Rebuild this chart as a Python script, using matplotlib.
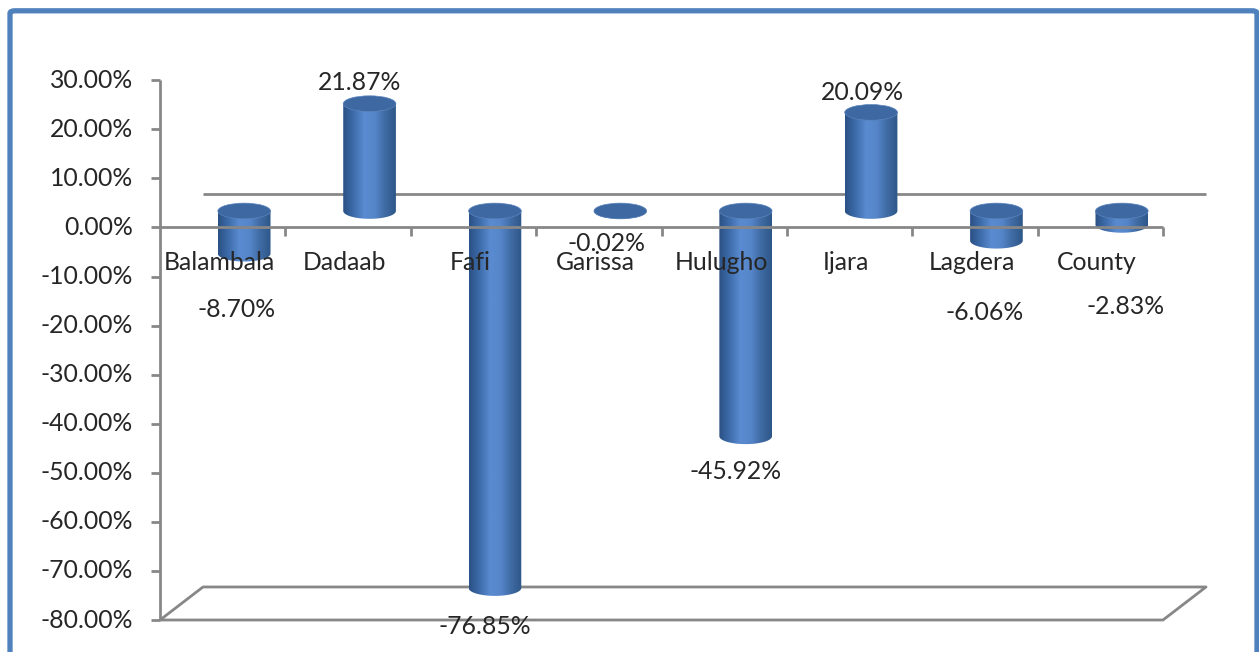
import numpy as np
import matplotlib.pyplot as plt
from matplotlib.patches import Ellipse, PathPatch, FancyBboxPatch
from matplotlib.path import Path
from matplotlib.colors import LinearSegmentedColormap

plt.rcParams['font.family'] = ['Lato', 'DejaVu Sans']

# ---------------------------------------------------------------------------
sub_counties = ['Balambala', 'Dadaab', 'Fafi', 'Garissa', 'Hulugho', 'Ijara', 'Lagdera', 'County']
change_pct = [-8.70, 21.87, -76.85, -0.02, -45.92, 20.09, -6.06, -2.83]
y_ticks = [30, 20, 10, 0, -10, -20, -30, -40, -50, -60, -70, -80]

# where each value label sits relative to the end of its cylinder
label_dx = [0.11, 0.09, 0.09, 0.06, 0.09, 0.10, 0.08, 0.20]
label_dy = [-11.4, 4.4, -7.8, -6.6, -7.1, 4.0, -14.6, -16.6]

# ---------------------------------------------------------------------------
ymin, ymax = -80, 30
depth_x, depth_y = 0.343, 6.73        # back wall offset (category units, %)
bar_w = 0.42
cap_h = 3.2
axis_col = '#878787'
text_col = '#262626'
fs = 17.8

fig = plt.figure(figsize=(12.59, 6.52), dpi=100)
ax = fig.add_axes([160 / 1259, 32 / 652, 1003 / 1259, 539.7 / 652])
ax.set_xlim(-0.5, 7.5)
ax.set_ylim(ymin, ymax)
ax.axis('off')

# frame around the whole chart
fig.patches.append(FancyBboxPatch((10 / 1259, -0.05), 1247 / 1259, 1.0 - 10.8 / 652 + 0.05,
                                  boxstyle='round,pad=0,rounding_size=0.004',
                                  transform=fig.transFigure, facecolor='none',
                                  edgecolor='#4F81BD', linewidth=3.8, zorder=10))

n = len(sub_counties)
x0, x1 = -0.5, n - 0.5

# floor and back zero line
line_kw = dict(color=axis_col, lw=2, clip_on=False, solid_capstyle='butt')
ax.plot([x0, x1, x1 + depth_x, x0 + depth_x, x0],
        [ymin, ymin, ymin + depth_y, ymin + depth_y, ymin], zorder=1, **line_kw)
ax.plot([x0 + depth_x, x1 + depth_x], [depth_y, depth_y], zorder=1, **line_kw)

# cylinders
body_cmap = LinearSegmentedColormap.from_list(
    'cyl', ['#2A5185', '#3E6CAB', '#5A8BD0', '#5686CA', '#3F6BA4', '#2E5788'])
grad = np.linspace(0, 1, 200).reshape(1, -1)
for i, v in enumerate(change_pct):
    cx = i + depth_x / 2
    base = depth_y / 2
    end = v + base
    lo, hi = min(base, end), max(base, end)
    left, right = cx - bar_w / 2, cx + bar_w / 2
    t = np.linspace(np.pi, 2 * np.pi, 40)
    verts = [(left, hi), (left, lo)]
    verts += list(zip(cx + bar_w / 2 * np.cos(t), lo + cap_h / 2 * np.sin(t)))
    verts += [(right, hi), (left, hi)]
    body = PathPatch(Path(verts), facecolor='none', edgecolor='none', transform=ax.transData)
    ax.add_patch(body)
    im = ax.imshow(grad, cmap=body_cmap, aspect='auto', zorder=2,
                   extent=[left, right, lo - cap_h, hi], interpolation='bilinear')
    im.set_clip_path(body)
    ax.add_patch(Ellipse((cx, hi), bar_w, cap_h, facecolor='#3D68A1',
                         edgecolor='#5B84BD', lw=0.5, zorder=3))

# front axes
ax.plot([x0, x0], [ymin, ymax], zorder=4, **line_kw)
ax.plot([x0, x1], [0, 0], zorder=4, **line_kw)
for yt in y_ticks:
    ax.plot([x0 - 0.072, x0], [yt, yt], zorder=4, **line_kw)
    ax.text(x0 - 0.215, yt, f'{yt:.2f}%', ha='right', va='center',
            fontsize=fs, color=text_col)
for k in range(1, n + 1):
    ax.plot([x0 + k, x0 + k], [0, -1.7], zorder=4, **line_kw)

# category names and value labels
for i, (name, v) in enumerate(zip(sub_counties, change_pct)):
    ax.text(i - 0.025, -7.1, name, ha='center', va='center',
            fontsize=fs, color=text_col, zorder=5)
    ax.text(i + label_dx[i], v + depth_y / 2 + label_dy[i], f'{v:.2f}%',
            ha='center', va='center', fontsize=fs, color=text_col, zorder=5)

fig.savefig('out.png', dpi=100)
